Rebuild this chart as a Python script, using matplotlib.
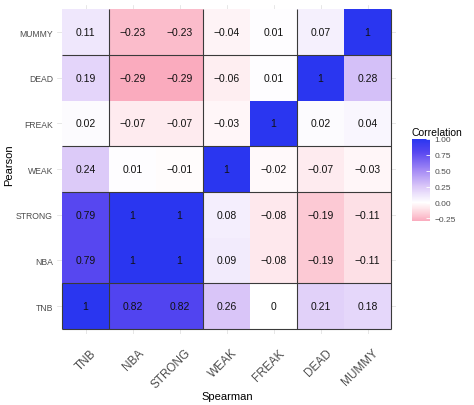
import numpy as np
import matplotlib
matplotlib.use("Agg")
import matplotlib.pyplot as plt
import matplotlib.transforms as mtransforms
from matplotlib.colors import LinearSegmentedColormap, Normalize

plt.rcParams['font.family'] = ['Liberation Sans', 'DejaVu Sans']

# categories (same order on both axes, bottom->top / left->right)
labels = ["TNB", "NBA", "STRONG", "WEAK", "FREAK", "DEAD", "MUMMY"]

# one row per Pearson variable, columns follow Spearman labels
tnb = [1, 0.82, 0.82, 0.26, 0, 0.21, 0.18]
nba = [0.79, 1, 1, 0.09, -0.08, -0.19, -0.11]
strong = [0.79, 1, 1, 0.08, -0.08, -0.19, -0.11]
weak = [0.24, 0.01, -0.01, 1, -0.02, -0.07, -0.03]
freak = [0.02, -0.07, -0.07, -0.03, 1, 0.02, 0.04]
dead = [0.19, -0.29, -0.29, -0.06, 0.01, 1, 0.28]
mummy = [0.11, -0.23, -0.23, -0.04, 0.01, 0.07, 1]

cbar_ticks = [-0.25, 0, 0.25, 0.5, 0.75, 1.0]

# groups used for the dark separator lines
row_groups = [["TNB"], ["NBA", "STRONG"], ["WEAK"], ["FREAK", "DEAD"], ["MUMMY"]]
col_groups = [["TNB"], ["NBA", "STRONG"], ["WEAK", "FREAK"], ["DEAD", "MUMMY"]]

mat = np.array([tnb, nba, strong, weak, freak, dead, mummy])
vmin, vmax = mat.min(), mat.max()

nodes = [(-0.29, "#FAABBE"), (-0.15, "#FDD6DE"), (0.0, "#FFFFFF"), (0.25, "#DBC8F8"),
         (0.5, "#A68CF5"), (0.79, "#5847F0"), (1.0, "#2A36F0")]
cmap = LinearSegmentedColormap.from_list(
    "corr", [((v - vmin) / (vmax - vmin), c) for v, c in nodes])
norm = Normalize(vmin, vmax)

fig = plt.figure(figsize=(4.74, 4.06), dpi=100)
ax = fig.add_axes([0.1209, 0.1759, 0.714, 0.8103])

n = len(labels)
for y in range(n):
    ax.axhline(y, color="#dddddd", lw=0.5, zorder=0)
for x in range(n):
    ax.axvline(x, color="#dddddd", lw=0.5, zorder=0)

ax.pcolormesh(np.arange(n + 1) - 0.5, np.arange(n + 1) - 0.5, mat,
              cmap=cmap, norm=norm, zorder=1)

for i in range(n):
    for j in range(n):
        v = mat[i, j]
        txt = f"{v:.2f}".rstrip("0").rstrip(".") if v != 0 else "0"
        txt = txt.replace("-", "\u2212")
        ax.text(j, i, txt, ha="center", va="center", fontsize=7.5,
                color="#111111", zorder=3)

# separator lines between groups
line_kw = dict(color="#3a3a3a", lw=0.8, zorder=2)
idx = {lab: k for k, lab in enumerate(labels)}
for g in row_groups[:-1]:
    ax.hlines(idx[g[-1]] + 0.5, -0.5, n - 0.5, **line_kw)
ax.hlines(-0.5, -0.5, n - 0.5, **line_kw)
weak_row = idx["WEAK"]
for g in col_groups[:-1]:
    xb = idx[g[-1]] + 0.5
    if xb < 1:
        ax.vlines(xb, -0.5, weak_row - 0.5, **line_kw)
        ax.vlines(xb, weak_row + 0.5, n - 0.5, **line_kw)
    else:
        ax.vlines(xb, -0.5, n - 0.5, **line_kw)
ax.vlines(n - 0.5, -0.5, n - 0.5, **line_kw)
ax.vlines(-0.5, -0.5, 0.5, **line_kw)

ax.set_xlim(-0.6, n - 0.4)
ax.set_ylim(-0.6, n - 0.4)
ax.set_xticks(range(n))
ax.set_yticks(range(n))
ax.set_xticklabels(labels, rotation=45, ha="right", va="top",
                   rotation_mode="anchor", fontsize=8.5, color="#4d4d4d")
ax.set_yticklabels(labels, fontsize=6.2, color="#4d4d4d")
ax.tick_params(length=0, pad=3)
ax.tick_params(axis="x", pad=5)
shift = mtransforms.ScaledTranslation(5 / 100, -6 / 100, fig.dpi_scale_trans)
for lab in ax.get_xticklabels():
    lab.set_transform(lab.get_transform() + shift)
for s in ax.spines.values():
    s.set_visible(False)

fig.text(227 / 474, 1 - 397 / 406, "Spearman", fontsize=8, ha="center", va="center")
fig.text(9 / 474, 1 - 165 / 406, "Pearson", fontsize=8, ha="center", va="center",
         rotation=90)

cax = fig.add_axes([412 / 474, (406 - 222) / 406, 18 / 474, 82 / 406])
sm = plt.cm.ScalarMappable(norm=norm, cmap=cmap)
cb = fig.colorbar(sm, cax=cax, ticks=cbar_ticks)
cb.outline.set_visible(False)
cb.ax.set_yticklabels([f"{t:.2f}".replace("-", "\u2212") for t in cbar_ticks])
cb.ax.tick_params(length=3, width=0.6, color="white", direction="in",
                  labelsize=6, labelcolor="#4d4d4d", pad=3)
fig.text(412 / 474, 1 - 136 / 406, "Correlation", fontsize=7.5, ha="left", va="baseline")

fig.savefig("out.png", dpi=100)
